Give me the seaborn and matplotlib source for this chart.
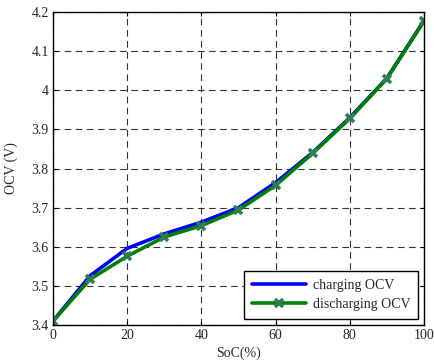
import matplotlib
matplotlib.use("Agg")
import matplotlib.pyplot as plt
import seaborn as sns
import pandas as pd

soc = [0, 10, 20, 30, 40, 50, 60, 70, 80, 90, 100]
charging = [3.41, 3.526, 3.596, 3.633, 3.663, 3.700, 3.764, 3.841, 3.930, 4.031, 4.178]
discharging = [3.41, 3.517, 3.576, 3.625, 3.654, 3.694, 3.757, 3.839, 3.928, 4.030, 4.177]
xticks = [0, 20, 40, 60, 80, 100]
yticks = [3.4, 3.5, 3.6, 3.7, 3.8, 3.9, 4.0, 4.1, 4.2]
yticklabels = ["3.4", "3.5", "3.6", "3.7", "3.8", "3.9", "4", "4.1", "4.2"]

sns.set_style("white")
plt.rcParams['font.family'] = ['Liberation Serif', 'DejaVu Serif']
plt.rcParams['font.size'] = 10

fig = plt.figure(figsize=(4.34, 3.64), dpi=100)
ax = fig.add_axes([0.122, 0.107, 0.855, 0.860])

df = pd.DataFrame({"soc": soc, "charging": charging, "discharging": discharging})
sns.lineplot(data=df, x="soc", y="charging", ax=ax, color="#0000ff", lw=2.6,
             label="charging OCV")
sns.lineplot(data=df, x="soc", y="discharging", ax=ax, color="#008000", lw=2.6,
             marker="x", markersize=6, markeredgewidth=2.6,
             markerfacecolor="#2e7d55", markeredgecolor="#2e7d55",
             label="discharging OCV")

ax.set_xlim(0, 100)
ax.set_ylim(3.4, 4.2)
ax.set_xticks(xticks)
ax.set_yticks(yticks)
ax.set_yticklabels(yticklabels)
ax.grid(True, color="black", linestyle=(0, (6, 4)), linewidth=0.8, alpha=0.8)
ax.tick_params(direction="in", length=3, color="black", labelsize=10, pad=3,
               top=True, right=True, bottom=True, left=True)
for s in ax.spines.values():
    s.set_color("black")
    s.set_linewidth(1.0)
ax.set_xlabel("SoC(%)", fontsize=10, labelpad=3)
ax.set_ylabel("OCV (V)", fontsize=10, labelpad=10)
leg = ax.legend(loc="lower right", frameon=True, fancybox=False, edgecolor="black",
                framealpha=1, fontsize=10, handlelength=3.9, borderpad=0.55,
                labelspacing=0.45, handletextpad=0.5, borderaxespad=0.45, numpoints=1)
leg.get_frame().set_linewidth(1.0)

fig.savefig("out.png", dpi=100)
